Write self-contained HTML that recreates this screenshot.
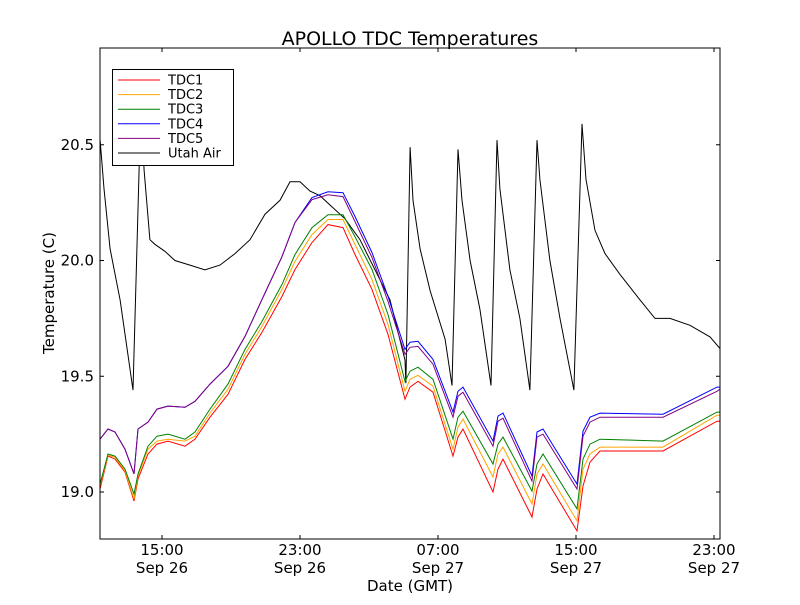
<!DOCTYPE html>
<html><head><meta charset="utf-8"><style>
body{margin:0;background:#fff;}
svg text{font-family:"DejaVu Sans","Liberation Sans",sans-serif;}
</style></head><body>
<svg id="chart" width="800" height="600" xmlns="http://www.w3.org/2000/svg">
<rect width="800" height="600" fill="#fff"/>
<text x="410" y="45" font-size="19" text-anchor="middle">APOLLO TDC Temperatures</text>
<text x="410" y="591" font-size="15" text-anchor="middle">Date (GMT)</text>
<text transform="translate(54,293) rotate(-90)" font-size="15" text-anchor="middle">Temperature (C)</text>
<g id="plot"></g>
</svg>
<script>
const xTickHours=[15,23,31,39,47];
const xTickLabels=[["15:00","Sep 26"],["23:00","Sep 26"],["07:00","Sep 27"],["15:00","Sep 27"],["23:00","Sep 27"]];
const yTicks=[19.0,19.5,20.0,20.5];
const yTickLabels=["19.0","19.5","20.0","20.5"];
const tdcTimes=[11.406,11.870,12.275,12.855,13.377,13.609,14.188,14.710,15.348,16.333,16.913,17.783,18.826,19.812,20.797,21.957,22.710,23.696,24.623,25.493,26.188,27.174,28.101,29.087,29.377,29.841,30.710,31.870,32.159,32.449,34.188,34.478,34.768,36.449,36.739,37.087,39.058,39.406,39.812,40.391,44.043,47.174,47.348];
const tdc1=[19.013,19.155,19.142,19.086,18.961,19.056,19.164,19.207,19.220,19.198,19.228,19.323,19.422,19.573,19.690,19.845,19.961,20.078,20.155,20.142,20.026,19.875,19.681,19.401,19.453,19.478,19.431,19.155,19.237,19.272,19.000,19.099,19.142,18.892,19.013,19.078,18.832,19.026,19.129,19.177,19.177,19.306,19.306];
const tdc2=[19.026,19.159,19.151,19.091,18.970,19.069,19.185,19.220,19.228,19.220,19.241,19.341,19.444,19.595,19.716,19.875,19.996,20.112,20.177,20.177,20.069,19.918,19.724,19.435,19.487,19.504,19.457,19.185,19.280,19.315,19.065,19.164,19.194,18.948,19.078,19.121,18.875,19.099,19.164,19.194,19.194,19.332,19.332];
const tdc3=[19.034,19.164,19.155,19.099,18.991,19.078,19.198,19.241,19.250,19.228,19.259,19.358,19.466,19.616,19.737,19.897,20.026,20.142,20.198,20.198,20.103,19.961,19.767,19.478,19.522,19.539,19.487,19.228,19.323,19.349,19.121,19.207,19.237,19.004,19.121,19.164,18.927,19.142,19.207,19.228,19.220,19.345,19.345];
const tdc4=[19.228,19.272,19.259,19.185,19.078,19.272,19.302,19.358,19.371,19.366,19.392,19.466,19.543,19.672,19.832,20.017,20.164,20.272,20.297,20.293,20.190,20.034,19.845,19.616,19.647,19.651,19.573,19.345,19.435,19.453,19.220,19.328,19.341,19.069,19.259,19.272,19.034,19.263,19.323,19.341,19.336,19.453,19.453];
const tdc5=[19.228,19.272,19.259,19.185,19.078,19.272,19.302,19.358,19.371,19.366,19.392,19.466,19.543,19.672,19.832,20.017,20.164,20.263,20.284,20.276,20.168,20.013,19.823,19.595,19.625,19.629,19.552,19.323,19.414,19.431,19.198,19.306,19.319,19.047,19.237,19.250,19.013,19.241,19.302,19.323,19.323,19.435,19.444];
const airTimes=[11.41,11.64,11.99,12.57,13.32,13.78,13.96,14.30,14.59,15.17,15.75,16.62,17.49,18.36,19.23,20.10,20.97,21.84,22.42,23.00,23.58,24.16,24.74,25.61,26.48,27.35,28.22,29.09,29.14,29.38,29.55,29.96,30.54,31.41,31.81,32.16,32.39,32.86,33.43,34.07,34.42,34.59,35.17,35.75,36.33,36.74,36.91,37.49,38.07,38.88,39.35,39.58,40.10,40.68,41.55,42.71,43.58,44.45,45.61,46.77,47.35];
const airTemps=[20.52,20.31,20.05,19.83,19.44,20.69,20.39,20.09,20.07,20.04,20.00,19.98,19.96,19.98,20.03,20.09,20.20,20.26,20.34,20.34,20.30,20.28,20.24,20.18,20.09,19.96,19.83,19.57,19.47,20.49,20.26,20.05,19.87,19.66,19.46,20.48,20.26,20.00,19.79,19.46,20.52,20.31,19.96,19.75,19.44,20.52,20.35,20.00,19.75,19.44,20.59,20.35,20.13,20.03,19.94,19.83,19.75,19.75,19.72,19.67,19.62];
const seriesNames=["TDC1","TDC2","TDC3","TDC4","TDC5","Utah Air"];
const seriesColors=["#ff0000","#ffa500","#008000","#0000ff","#800080","#000000"];

const L=100,R=720,T=48,B=539,xMin=11.406,xMax=47.348,yMin=18.797,yMax=20.918;
const xs=h=>L+(h-xMin)/(xMax-xMin)*(R-L);
const ys=v=>B-(v-yMin)/(yMax-yMin)*(B-T);
const NS="http://www.w3.org/2000/svg";
const g=document.getElementById('plot');
function mk(tag,attrs){const e=document.createElementNS(NS,tag);for(const k in attrs)e.setAttribute(k,attrs[k]);return e;}
const clip=mk('clipPath',{id:'pc'});clip.appendChild(mk('rect',{x:L,y:T,width:R-L,height:B-T}));g.appendChild(clip);
const lines=mk('g',{'clip-path':'url(#pc)'});g.appendChild(lines);
const allSeries=[[tdcTimes,tdc1],[tdcTimes,tdc2],[tdcTimes,tdc3],[tdcTimes,tdc4],[tdcTimes,tdc5],[airTimes,airTemps]];
const drawOrder=[5,0,1,2,3,4];
drawOrder.forEach(i=>{
  const [tt,vv]=allSeries[i];
  const p=mk('polyline',{points:tt.map((t,j)=>xs(t).toFixed(1)+','+ys(vv[j]).toFixed(1)).join(' '),fill:'none',stroke:seriesColors[i],'stroke-width':1});
  
  
  lines.appendChild(p);
});
const frame=mk('rect',{x:L,y:T,width:R-L,height:B-T,fill:'none',stroke:'#000','stroke-width':1});


g.appendChild(frame);
xTickHours.forEach((h,i)=>{
  const x=xs(h);
  g.appendChild(mk('line',{x1:x,x2:x,y1:B,y2:B-4,stroke:'#000'}));
  g.appendChild(mk('line',{x1:x,x2:x,y1:T,y2:T+4,stroke:'#000'}));
  const t=mk('text',{x:x,y:B+16,'font-size':15,'text-anchor':'middle'});
  
  
  t.textContent=xTickLabels[i][0];g.appendChild(t);
  const t2=mk('text',{x:x,y:B+34,'font-size':15,'text-anchor':'middle'});
  
  
  t2.textContent=xTickLabels[i][1];g.appendChild(t2);
});
yTicks.forEach((v,i)=>{
  const y=ys(v);
  g.appendChild(mk('line',{x1:L,x2:L+4,y1:y,y2:y,stroke:'#000'}));
  g.appendChild(mk('line',{x1:R,x2:R-4,y1:y,y2:y,stroke:'#000'}));
  const t=mk('text',{x:L-6,y:y+5,'font-size':15,'text-anchor':'end'});
  
  
  t.textContent=yTickLabels[i];g.appendChild(t);
});
const leg=mk('g',{});


leg.appendChild(mk('rect',{x:112.5,y:69.5,width:121,height:96,fill:'#fff',stroke:'#000'}));
seriesNames.forEach((n,i)=>{
  const y=80+i*14.6;
  const e=mk('g',{});
  
  
  e.appendChild(mk('line',{x1:118,x2:160,y1:y,y2:y,stroke:seriesColors[i]}));
  const t=mk('text',{x:168,y:y+4.5,'font-size':13});t.textContent=n;e.appendChild(t);
  leg.appendChild(e);
});
g.appendChild(leg);
</script>
</body></html>
